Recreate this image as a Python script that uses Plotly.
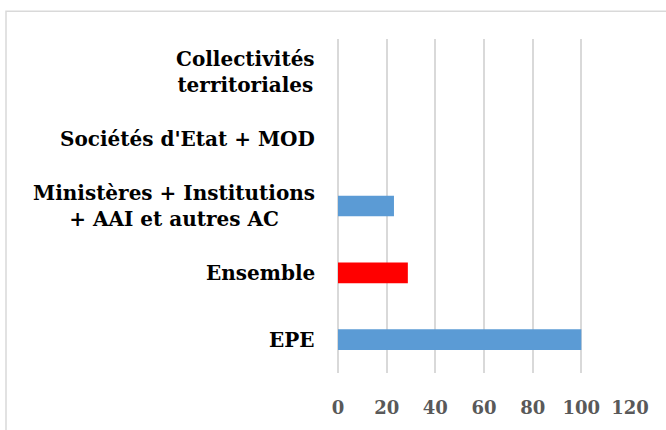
import plotly.graph_objects as go

categories = ["EPE", "Ensemble", "Ministères + Institutions<br>+ AAI et autres AC",
              "Sociétés d'Etat + MOD", "Collectivités<br>territoriales"]
values = [100, 28.7, 23, 0, 0]
bar_colors = ["#5b9bd5", "#ff0000", "#5b9bd5", "#5b9bd5", "#5b9bd5"]
x_ticks = [0, 20, 40, 60, 80, 100, 120]

W, H = 666, 430
ML, MR, MT, MB = 338, 36, 39, 53
PW, PH = W - ML - MR, H - MT - MB

fig = go.Figure(go.Bar(
    x=values, y=categories, orientation="h",
    marker=dict(color=bar_colors, line=dict(width=0)),
))

annotations = []
for c in categories:
    annotations.append(dict(
        x=0, y=c, xref="paper", yref="y", text=c, showarrow=False,
        xanchor="right", yanchor="middle", align="center", xshift=-21,
        font=dict(family="DejaVu Serif", size=20, color="#000000", weight="bold"),
    ))

def px_x(p):
    return (p - ML) / PW

def px_y(p):
    return (H - MB - p) / PH

fig.update_layout(
    width=W, height=H,
    margin=dict(l=ML, r=MR, t=MT, b=MB),
    paper_bgcolor="white", plot_bgcolor="white",
    bargap=0.69,
    showlegend=False,
    annotations=annotations,
    xaxis=dict(
        range=[0, 120], tickvals=x_ticks, ticktext=[str(v) for v in x_ticks],
        showgrid=True, gridcolor="#d9d9d9", gridwidth=1.5,
        zeroline=True, zerolinecolor="#d9d9d9", zerolinewidth=1.5,
        showline=False, ticks="", ticklabelstandoff=22,
        tickfont=dict(family="DejaVu Serif", size=18, color="#595959", weight="bold"),
        fixedrange=True,
    ),
    yaxis=dict(
        categoryorder="array", categoryarray=categories,
        showticklabels=False, showgrid=False, zeroline=False, showline=False, ticks="",
        fixedrange=True,
    ),
    shapes=[dict(
        type="rect", xref="paper", yref="paper",
        x0=px_x(6), x1=px_x(700), y0=px_y(460), y1=px_y(11),
        line=dict(color="#d9d9d9", width=1.5), fillcolor="rgba(0,0,0,0)",
        layer="below",
    )],
)

fig.write_html("out.html", config={"displayModeBar": False},
               post_script="document.body.style.margin='0';document.body.style.overflow='hidden';")
